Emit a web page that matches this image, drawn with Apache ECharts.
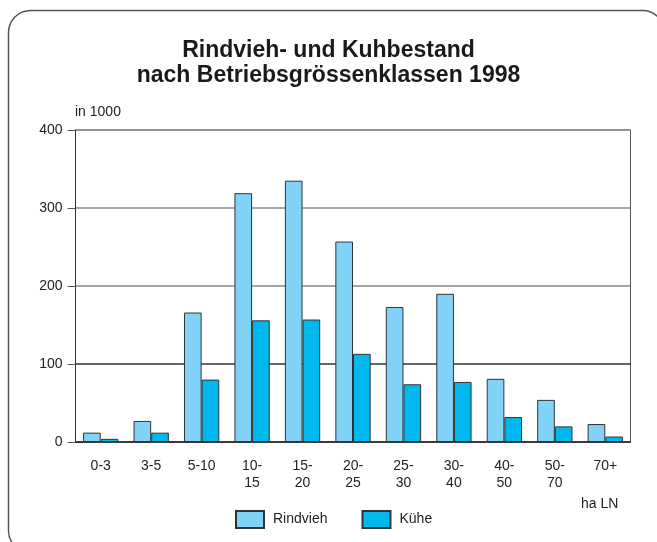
<!DOCTYPE html>
<html>
<head>
<meta charset="utf-8">
<script src="https://cdn.jsdelivr.net/npm/echarts@6/dist/echarts.min.js"></script>
<style>
  html, body { margin: 0; padding: 0; background: #fff; }
  #chart { width: 657px; height: 542px; }
</style>
</head>
<body>
<div id="chart"></div>
<script>
// Betriebsgrössenklassen (ha LN)
const klassen = ['0-3', '3-5', '5-10', '10-\n15', '15-\n20', '20-\n25', '25-\n30', '30-\n40', '40-\n50', '50-\n70', '70+'];
// Bestand in 1000
const rindvieh = [12, 27, 166, 319, 335, 257, 173, 190, 81, 54, 23];
const kuehe = [4, 12, 80, 156, 157, 113, 74, 77, 32, 20, 7];
const yTicks = [0, 100, 200, 300, 400];

const font = '"Liberation Sans", Arial, sans-serif';
const myChart = echarts.init(document.getElementById('chart'));

myChart.setOption({
  animation: false,
  backgroundColor: '#fff',
  title: {
    text: 'Rindvieh- und Kuhbestand\nnach Betriebsgrössenklassen 1998',
    left: 'center',
    top: 33,
    textStyle: {
      fontFamily: font,
      fontSize: 23,
      fontWeight: 'bold',
      lineHeight: 25,
      color: '#1a1a1a',
    },
  },
  graphic: [
    {
      type: 'rect',
      shape: { x: 8.5, y: 10.5, width: 656, height: 542, r: 22 },
      style: { fill: 'none', stroke: '#555', lineWidth: 1.5 },
      z: 0,
    },
    {
      type: 'text',
      left: 75,
      top: 105,
      style: { text: 'in 1000', font: '14px ' + font, fill: '#222' },
    },
    {
      type: 'text',
      left: 581,
      top: 497,
      style: { text: 'ha LN', font: '14px ' + font, fill: '#222' },
    },
  ],
  legend: {
    data: ['Rindvieh', 'Kühe'],
    icon: 'rect',
    left: 230,
    top: 505,
    itemWidth: 28,
    itemHeight: 17,
    itemGap: 34,
    textStyle: {
      fontFamily: font,
      fontSize: 14,
      color: '#222',
      padding: [0, 0, 0, 4],
    },
  },
  grid: {
    left: 75.5,
    right: 26.5,
    top: 130,
    bottom: 100,
    show: true,
    borderColor: '#555',
    borderWidth: 1,
  },
  xAxis: {
    type: 'category',
    data: klassen,
    axisTick: { show: false },
    axisLine: { lineStyle: { color: '#333', width: 1.5 } },
    axisLabel: {
      interval: 0,
      margin: 16,
      fontFamily: font,
      fontSize: 14,
      lineHeight: 17,
      color: '#222',
    },
  },
  yAxis: {
    type: 'value',
    min: yTicks[0],
    max: yTicks[yTicks.length - 1],
    interval: 100,
    axisLine: { show: true, lineStyle: { color: '#333', width: 1 } },
    axisTick: { show: true, length: 8, lineStyle: { color: '#555' } },
    axisLabel: {
      margin: 13,
      fontFamily: font,
      fontSize: 14,
      color: '#222',
    },
    splitLine: {
      lineStyle: {
        color: ['#333', '#333', '#888', '#888', '#888'],
        width: 1.5,
      },
    },
  },
  series: [
    {
      name: 'Rindvieh',
      type: 'bar',
      data: rindvieh,
      barWidth: '35%',
      barGap: '0%',
      itemStyle: { color: '#80d3f7', borderColor: '#333', borderWidth: 1 },
    },
    {
      name: 'Kühe',
      type: 'bar',
      data: kuehe,
      barWidth: '35%',
      itemStyle: { color: '#00b8ee', borderColor: '#333', borderWidth: 1 },
    },
  ],
});
</script>
</body>
</html>
